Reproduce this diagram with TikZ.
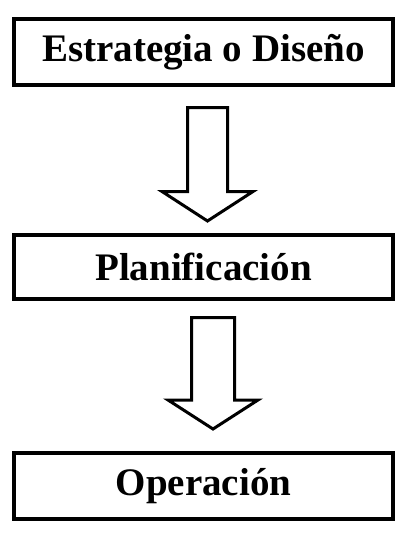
\documentclass[tikz,border=0pt]{standalone}
\usepackage{fontspec}
\setmainfont{Liberation Serif}
\usetikzlibrary{calc}

\tikzset{
	caja/.style={draw, line width=4pt, minimum width=379pt, inner sep=0pt, font=\fontsize{39}{44}\selectfont\bfseries},
	flecha/.style={draw, line width=3pt, fill=white}
}

\begin{document}
\begin{tikzpicture}[x=1pt, y=1pt]
\useasboundingbox (0,0) rectangle (404,-538);
\node[caja, minimum height=66pt] (estrategia) at (203.5,-52) {Estrategia o Diseño};
\node[caja, minimum height=64pt] (planificacion) at (203.5,-267) {Planificación};
\node[caja, minimum height=66pt] (operacion) at (203.5,-486) {Operación};
% flechas
\coordinate (f1a) at ($(estrategia.south)+(4,-20.5)$);
\coordinate (f1b) at ($(planificacion.north)+(4,12)$);
\draw[flecha] ($(f1a)+(-20,0)$) -- ($(f1a)+(20,0)$) -- ($(f1b)+(20,29.5)$) -- ($(f1b)+(45.5,29.5)$)
	-- (f1b) -- ($(f1b)+(-45.5,29.5)$) -- ($(f1b)+(-20,29.5)$) -- cycle;
\coordinate (f2a) at ($(planificacion.south)+(9.5,-16.5)$);
\coordinate (f2b) at ($(operacion.north)+(9.5,22)$);
\draw[flecha] ($(f2a)+(-21.5,0)$) -- ($(f2a)+(21.5,0)$) -- ($(f2b)+(21.5,29)$) -- ($(f2b)+(45,29)$)
	-- (f2b) -- ($(f2b)+(-45,29)$) -- ($(f2b)+(-21.5,29)$) -- cycle;
\end{tikzpicture}
\end{document}
